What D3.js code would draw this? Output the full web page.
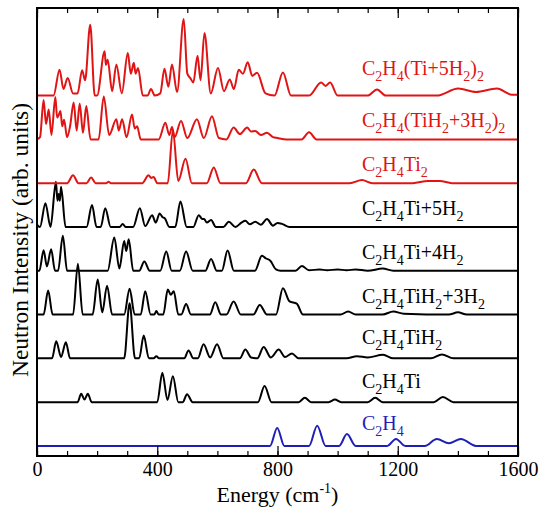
<!DOCTYPE html>
<html>
<head>
<meta charset="utf-8">
<title>INS spectra</title>
<script src="https://d3js.org/d3.v7.min.js"></script>
<style>
  body { margin: 0; background: #fff; }
  text { font-family: "Liberation Serif", "DejaVu Serif", serif; }
</style>
</head>
<body>
<svg width="542" height="508"></svg>
<script>
// labels, bottom spectrum first ("_" marks a subscript digit)
var labels = ["C_2H_4", "C_2H_4Ti", "C_2H_4TiH_2", "C_2H_4TiH_2+3H_2", "C_2H_4Ti+4H_2",
              "C_2H_4Ti+5H_2", "C_2H_4Ti_2", "C_2H_4(TiH_2+3H_2)_2", "C_2H_4(Ti+5H_2)_2"];
var groups = ["bare", "single", "single", "single", "single", "single", "double", "double", "double"];

// each spectrum: [energy (cm-1), intensity (arb.)]
var sC2H4 = [[0,0],[775,0],[799,0.41],[823,0],[905,0],[932,0.46],[960,0],[1005,0],[1031,0.27],[1060,0],
  [1165,0],[1194,0.16],[1225,0],[1290,0],[1330,0.16],[1370,0.06],[1410,0.16],[1460,0],[1600,0]];

var sTi = [[0,0],[135,0],[147,0.19],[158,0.06],[169,0.19],[182,0],[400,0],[417,0.67],[434,0.05],[452,0.59],
  [470,0],[485,0],[499,0.18],[518,0],[735,0],[757,0.37],[780,0],[870,0],[891,0.10],[912,0],[970,0],
  [991,0.06],[1012,0],[1100,0],[1125,0.1],[1150,0],[1320,0],[1350,0.12],[1385,0],[1600,0]];

var sTiH2 = [[0,0],[50,0],[64,0.39],[80,0.03],[96,0.37],[110,0],[290,0],[308,1.26],[326,0],[340,0],
  [355,0.52],[372,0],[388,0],[397,0.05],[406,0],[490,0],[504,0.18],[520,0],[535,0],[554,0.32],[576,0.02],
  [599,0.32],[620,0],[675,0],[693,0.2],[712,0.02],[733,0],[754,0.26],[778,0.02],[804,0.2],[825,0.03],
  [848,0.11],[870,0],[1030,0],[1064,0.05],[1100,0.02],[1151,0.08],[1185,0],[1310,0],[1347,0.09],[1385,0],[1600,0]];

var sTiH2_3H2 = [[0,0],[22,0],[37,0.55],[52,0],[120,0],[136,1.16],[152,0],[185,0],[202,0.80],[217,0.05],
  [233,0.66],[250,0],[290,0],[308,0.59],[325,0],[345,0],[360,0.53],[378,0],[390,0],[397,0.08],[405,0],
  [420,0],[435,0.57],[445,0.45],[455,0.53],[470,0],[480,0],[496,0.24],[512,0],[575,0],[593,0.28],[612,0],
  [630,0],[654,0.30],[678,0],[720,0],[741,0.22],[765,0],[795,0],[818,0.60],[840,0.3],[864,0.25],[885,0],
  [1010,0],[1035,0.07],[1060,0],[1150,0],[1185,0.07],[1220,0.02],[1370,0],[1400,0.05],[1430,0],[1600,0]];

var sTi_4H2 = [[0,0],[8,0],[22,0.47],[33,0.1],[47,0.49],[60,0],[70,0],[86,0.80],[100,0],[235,0],[257,0.76],
  [274,0.05],[290,0.68],[297,0.45],[305,0.72],[320,0],[340,0],[357,0.21],[375,0],[410,0],[430,0.44],[448,0],
  [475,0],[496,0.44],[518,0],[560,0],[579,0.27],[598,0],[615,0],[634,0.46],[655,0],[725,0],[748,0.34],
  [762,0.28],[776,0.23],[795,0.03],[810,0],[860,0],[881,0.11],[905,0.01],[940,0.03],[965,0.01],[1000,0.03],
  [1030,0.01],[1060,0.03],[1100,0],[1150,0.05],[1185,0],[1600,0]];

var sTi_5H2 = [[0,0.05],[10,0],[28,0.54],[45,0],[63,1.03],[68,0.6],[72,0.75],[76,0.6],[80,0.92],[95,0],
  [165,0],[183,0.50],[198,0],[212,0],[227,0.43],[245,0],[275,0],[285,0.07],[295,0],[320,0],[342,0.43],[360,0.02],
  [383,0.27],[395,0.1],[408,0.31],[418,0.22],[425,0.2],[440,0],[460,0],[477,0.58],[498,0],[520,0],[538,0.27],
  [550,0.18],[556,0.18],[565,0.1],[579,0.16],[595,0],[620,0],[638,0.12],[660,0],[680,0.1],[693,0.14],
  [708,0.06],[726,0.12],[745,0.05],[765,0.18],[785,0.03],[800,0.09],[815,0.07],[840,0],[1600,0]];

var sTi2 = [[0,0],[100,0],[120,0.18],[138,0],[165,0],[180,0.13],[195,0],[230,0],[238,0.03],[246,0],[350,0],
  [371,0.18],[380,0.12],[388,0.14],[400,0],[435,0],[452,1.21],[470,0.05],[494,0.56],[515,0],[565,0],
  [588,0.36],[610,0],[695,0],[721,0.31],[748,0],[1040,0],[1081,0.07],[1115,0],[1250,0],[1300,0.05],
  [1340,0.05],[1380,0],[1600,0]];

var sTiH2_3H2_2 = [[0,0],[10,0.05],[22,0.90],[30,0.35],[39,0.68],[48,0.1],[61,0.97],[67,0.5],[72,0.55],
  [78,0.65],[84,0.3],[90,0.45],[100,0.05],[110,0.3],[122,0.84],[132,0.2],[142,0.82],[153,0.15],[164,0.76],
  [178,0],[205,0],[222,0.98],[240,0.1],[264,0.46],[272,0.2],[283,0.46],[298,0.05],[316,0.57],[325,0.25],
  [333,0.3],[345,0],[405,0],[427,0.38],[440,0.1],[449,0.28],[458,0.05],[479,0.42],[500,0.03],[532,0.46],
  [555,0.03],[582,0.53],[605,0.03],[630,0],[654,0.27],[675,0.12],[699,0.27],[712,0.18],[726,0.19],[745,0.1],
  [765,0.15],[785,0.05],[800,0.03],[830,0],[880,0],[905,0.16],[930,0],[1600,0]];

var sTi_5H2_2 = [[0,0],[55,0],[75,0.59],[88,0.15],[102,0.40],[120,0.05],[135,0.05],[150,0.58],[160,0.35],
  [177,1.62],[192,0],[200,0],[225,1.01],[229,0.7],[235,0.82],[250,0.1],[264,0.71],[282,0.05],[302,0.97],
  [312,0.5],[322,0.75],[328,0.5],[336,0.63],[352,0],[368,0],[379,0.15],[392,0],[410,0.05],[424,0.61],
  [437,0.2],[449,0.71],[466,0.08],[488,1.75],[500,0.5],[510,0.4],[520,0.3],[534,0.91],[544,0.35],[557,1.43],
  [578,0.05],[602,0.63],[622,0.1],[641,0.37],[655,0.15],[671,0.59],[685,0.5],[701,0.76],[716,0.45],[732,0.52],
  [760,0.05],[790,0],[818,0.53],[845,0],[905,0],[945,0.30],[960,0.22],[975,0.30],[1000,0],[1100,0],
  [1131,0.14],[1160,0],[1330,0],[1401,0.16],[1460,0.08],[1530,0.16],[1580,0.02],[1600,0.02]];

var spectra = [sC2H4, sTi, sTiH2, sTiH2_3H2, sTi_4H2, sTi_5H2, sTi2, sTiH2_3H2_2, sTi_5H2_2];

var xMajor = [0, 400, 800, 1200, 1600];
var xMinor = d3.range(0, 1601, 100);

var svg = d3.select("svg"),
    margin = { top: 8, right: 24, bottom: 52, left: 37 },
    width = +svg.attr("width") - margin.left - margin.right,
    height = +svg.attr("height") - margin.top - margin.bottom,
    g = svg.append("g").attr("transform", "translate(" + margin.left + "," + margin.top + ")");

var color = { bare: "#1f1fb8", single: "#000000", double: "#e01414" };

var x = d3.scaleLinear().domain([0, 1600]).range([0, width]);
var y = d3.scaleLinear().domain([-0.23, 10]).range([height, 0]);

var line = d3.line()
    .x(function (d) { return x(d[0]); })
    .y(function (d) { return y(d[1]); })
    .curve(d3.curveMonotoneX);

// spectra, each shifted up by its index
spectra.forEach(function (s, i) {
    g.append("path")
        .attr("fill", "none")
        .attr("stroke", color[groups[i]])
        .attr("stroke-width", 2)
        .attr("stroke-linejoin", "round")
        .attr("d", line(s.map(function (d) { return [d[0], d[1] + i]; })));
});

// labels with subscripts
labels.forEach(function (lab, i) {
    var lift = i === 8 ? 21 : (i === 0 ? 16 : (i < 3 ? 14 : 12));
    var t = g.append("text")
        .attr("x", x(1081))
        .attr("y", y(i) - lift)
        .attr("fill", color[groups[i]])
        .style("font-size", "20px");
    var sub = false;
    lab.split(/(_\d)/).forEach(function (part) {
        if (!part) return;
        if (part[0] === "_") {
            t.append("tspan").attr("dy", 6).style("font-size", "14px").text(part.slice(1));
            sub = true;
        } else {
            t.append("tspan").attr("dy", sub ? -6 : 0).text(part);
            sub = false;
        }
    });
});

// ticks, inside, bottom and top
g.append("g")
    .attr("transform", "translate(0," + height + ")")
    .call(d3.axisBottom(x).tickValues(xMinor).tickSize(-5).tickFormat(""))
    .call(function (a) { a.select(".domain").remove(); });
g.append("g")
    .attr("transform", "translate(0," + height + ")")
    .call(d3.axisBottom(x).tickValues(xMajor).tickSize(-10).tickPadding(6).tickFormat(d3.format("d")))
    .call(function (a) {
        a.select(".domain").remove();
        a.selectAll("text").attr("fill", "#000")
            .style("font-size", "20px").style("font-family", "Liberation Serif");
    });
g.append("g")
    .call(d3.axisTop(x).tickValues(xMinor).tickSize(-5).tickFormat(""))
    .call(function (a) { a.select(".domain").remove(); });
g.append("g")
    .call(d3.axisTop(x).tickValues(xMajor).tickSize(-10).tickFormat(""))
    .call(function (a) { a.select(".domain").remove(); });
g.selectAll(".tick line").attr("stroke", "#000").attr("stroke-width", 1.2);

// frame
g.append("rect")
    .attr("width", width)
    .attr("height", height)
    .attr("fill", "none")
    .attr("stroke", "#000")
    .attr("stroke-width", 2);

// axis titles
var xl = svg.append("text")
    .attr("x", margin.left + width / 2)
    .attr("y", 502)
    .attr("text-anchor", "middle")
    .style("font-size", "22px");
xl.append("tspan").text("Energy (cm");
xl.append("tspan").attr("dy", -9).style("font-size", "14px").text("-1");
xl.append("tspan").attr("dy", 9).text(")");

svg.append("text")
    .attr("transform", "translate(28,240) rotate(-90)")
    .attr("text-anchor", "middle")
    .style("font-size", "23.5px")
    .text("Neutron Intensity (arb. units)");
</script>
</body>
</html>
